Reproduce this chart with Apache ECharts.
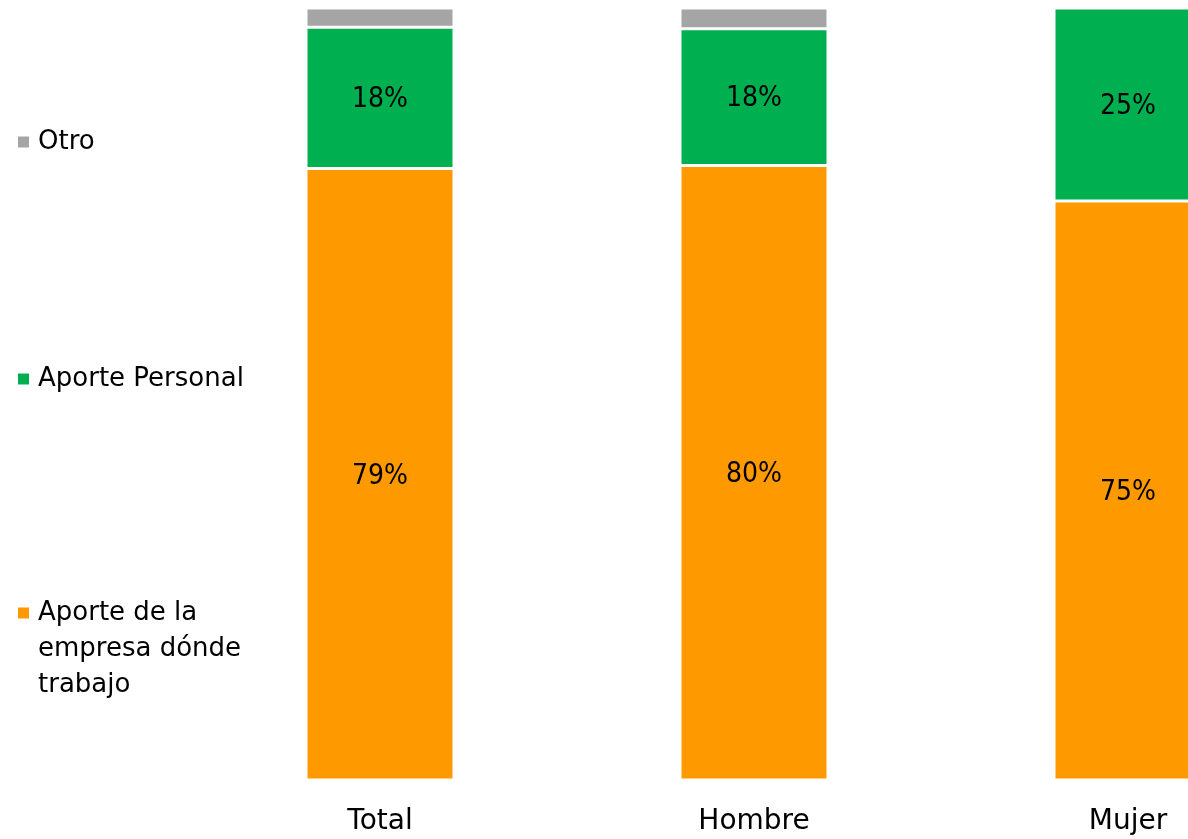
<!DOCTYPE html>
<html>
<head>
<meta charset="utf-8">
<script src="https://cdn.jsdelivr.net/npm/echarts@6/dist/echarts.min.js"></script>
<style>html,body{margin:0;padding:0;background:#fff}#c{width:1188px;height:839px}</style>
</head>
<body>
<div id="c"></div>
<script>
const categories = ['Total', 'Hombre', 'Mujer'];
const empresa = [79.2, 79.6, 75.0];
const personal = [18.3, 17.7, 25.0];
const otro = [2.5, 2.7, 0];
const seriesNames = ['Aporte de la empresa dónde trabajo', 'Aporte Personal', 'Otro'];

const chart = echarts.init(document.getElementById('c'));
const font = 'DejaVu Sans';
const labelCfg = {
  show: true, position: 'inside', color: '#000', offset: [0, 2],
  fontFamily: '"DejaVu Sans Condensed", "DejaVu Sans"', fontSize: 28,
  formatter: p => Math.round(p.value) + '%'
};
const mk = (name, data, color, label) => ({
  name, type: 'bar', stack: 'a', data, barWidth: 148,
  itemStyle: { color, borderColor: '#fff', borderWidth: 1.5 },
  label: label ? labelCfg : { show: false },
  emphasis: { disabled: true }
});
const legendBase = {
  orient: 'vertical', left: 16, padding: 0, icon: 'rect',
  itemWidth: 13, itemHeight: 13, selectedMode: false
};
const legendText = { fontFamily: font, fontSize: 26, color: '#000', lineHeight: 36, padding: [0, 0, 0, 3] };
chart.setOption({
  animation: false,
  grid: { left: 193, right: -127, top: 8, bottom: 59, containLabel: false, outerBoundsMode: 'none' },
  legend: [
    Object.assign({}, legendBase, { top: 124, data: [seriesNames[2]], textStyle: legendText }),
    Object.assign({}, legendBase, { top: 361, data: [seriesNames[1]], textStyle: legendText }),
    Object.assign({}, legendBase, { top: 523, data: [seriesNames[0]],
      formatter: () => '\n\nAporte de la\nempresa dónde\ntrabajo',
      textStyle: legendText })
  ],
  xAxis: {
    type: 'category', data: categories,
    axisLine: { show: false }, axisTick: { show: false },
    axisLabel: { fontFamily: font, fontSize: 28, color: '#000', margin: 28 }
  },
  yAxis: { type: 'value', min: 0, max: 100, show: false, splitLine: { show: false } },
  series: [
    mk(seriesNames[0], empresa, '#FF9900', true),
    mk(seriesNames[1], personal, '#00B050', true),
    mk(seriesNames[2], otro, '#A5A5A5', false)
  ]
});
</script>
</body>
</html>
